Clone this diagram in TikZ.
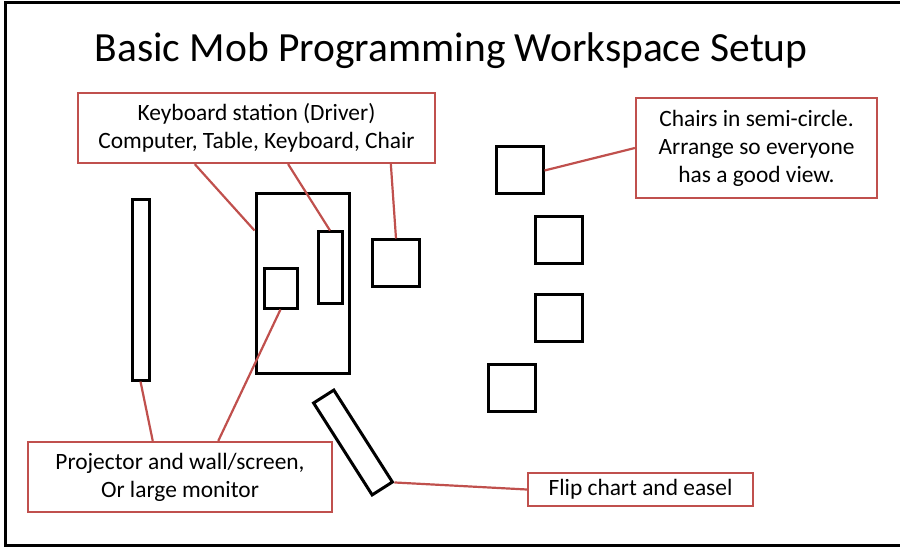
\documentclass[tikz,border=0pt]{standalone}
\usepackage{fontspec}
\setmainfont{Carlito}
\usetikzlibrary{calc}
\definecolor{calloutred}{RGB}{192,80,77}

\begin{document}
\begin{tikzpicture}[
    x=1pt, y=-1pt,
    furniture/.style={rectangle, draw, line width=3pt, inner sep=0pt},
    chair/.style={furniture, minimum width=47pt, minimum height=47pt},
    callout/.style={rectangle, draw=calloutred, line width=2.2pt, fill=white, inner sep=0pt, align=center, font=\fontsize{23.4}{28}\selectfont},
    leader/.style={calloutred, line width=2.2pt}
]
\useasboundingbox (0,0) rectangle (900,548);

% ===== FRAME AND TITLE =====
\draw[line width=3pt] (5,3) rectangle (904,545);
\node[font=\fontsize{41.5}{48}\selectfont] (title) at (451,51) {Basic Mob Programming Workspace Setup};

% ===== FURNITURE =====
\node[furniture, minimum width=17pt, minimum height=180pt] (wall) at (140.5,290) {};
\node[furniture, minimum width=93pt, minimum height=179pt] (table) at (302.5,283.5) {};
\node[furniture, minimum width=24pt, minimum height=71pt] (keyboard) at (330,267.5) {};
\node[furniture, minimum width=33pt, minimum height=39pt] (monitor) at (280.5,288.5) {};
\node[chair] (driver) at (396,263.5) {};
\node[chair] (chair1) at (519.5,170.5) {};
\node[chair] (chair2) at (559,240.5) {};
\node[chair] (chair3) at (559,318) {};
\node[chair] (chair4) at (512,388) {};
\node[furniture, minimum width=109pt, minimum height=24pt, rotate=-57.5] (flip) at (353,442.5) {};

% ===== CALLOUTS =====
\node[callout, minimum width=357pt, minimum height=70pt] (kblabel) at (256.5,128)
    {Keyboard station (Driver)\\Computer, Table, Keyboard, Chair};
\node[callout, minimum width=241pt, minimum height=100pt] (chairlabel) at (756.5,148)
    {Chairs in semi-circle.\\Arrange so everyone\\has a good view.};
\node[callout, minimum width=304pt, minimum height=70pt] (projlabel) at (180,477)
    {Projector and wall/screen,\\Or large monitor};
\node[callout, minimum width=225pt, minimum height=33pt] (fliplabel) at (640.5,489.5)
    {Flip chart and easel};

% ===== LEADERS =====
\draw[leader] ($(kblabel.south west)!0.328!(kblabel.south east)$) -- (table.west |- keyboard.north);
\draw[leader] ($(kblabel.south west)!0.588!(kblabel.south east)$) -- (keyboard.north);
\draw[leader] ($(kblabel.south west)!0.874!(kblabel.south east)$) -- (driver.north);
\draw[leader] (chairlabel.west) -- (chair1.east);
\draw[leader] (wall.south) -- ($(projlabel.north west)!0.411!(projlabel.north east)$);
\draw[leader] (monitor.south) -- ($(projlabel.north west)!0.625!(projlabel.north east)$);
\draw[leader] (flip.north east) -- (fliplabel.west);

\end{tikzpicture}
\end{document}
